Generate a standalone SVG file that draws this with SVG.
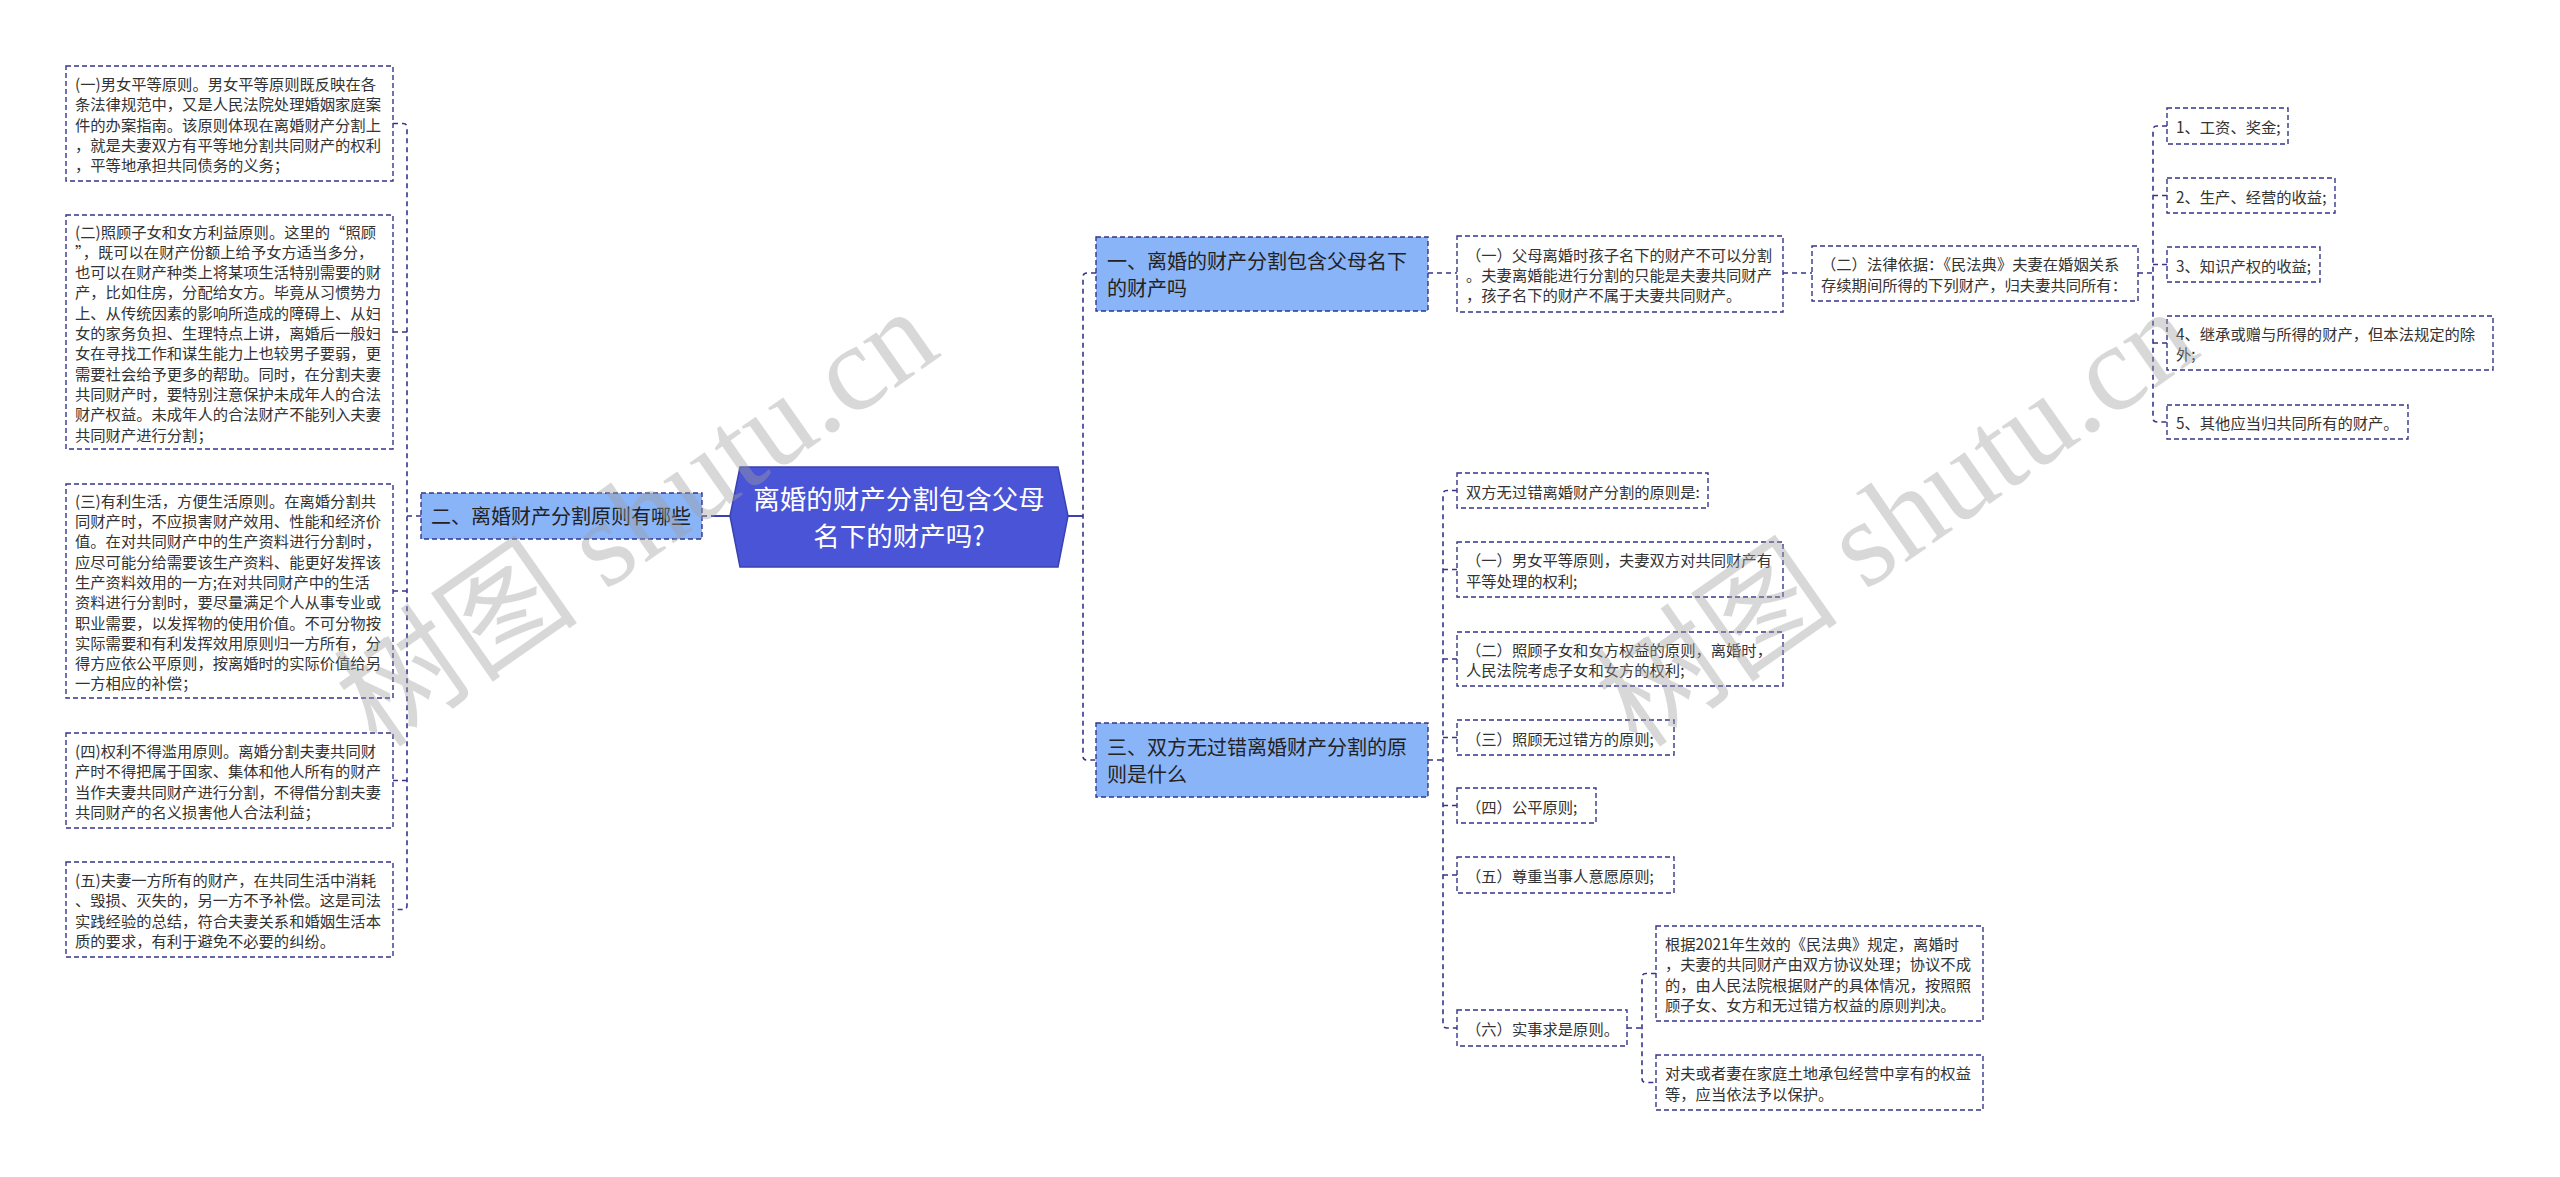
<svg xmlns="http://www.w3.org/2000/svg" width="2560" height="1177" viewBox="0 0 2560 1177">
<style>
.bg{fill:#ffffff}
.leaf rect{fill:#ffffff;stroke:#35358a;stroke-width:1.4;stroke-dasharray:5 3}
.leaf text{font-family:"Noto Sans CJK SC",sans-serif;font-size:15.3px;fill:#333333}
.topic rect{fill:#8ab4f8;stroke:#35358a;stroke-width:1.4;stroke-dasharray:5 3}
.topic text{font-family:"Noto Sans CJK SC",sans-serif;font-size:20px;fill:#222222}
.root polygon{fill:#4a54d6;stroke:#3a42b0;stroke-width:1.5}
.root text{font-family:"Noto Sans CJK SC",sans-serif;font-size:26.5px;fill:#ffffff;text-anchor:middle}
.conn path{fill:none;stroke:#35358a;stroke-width:1.6;stroke-dasharray:5 4}
.conn path.solid{stroke:#3a42b0;stroke-width:2;stroke-dasharray:none}
.wm{font-family:"Liberation Serif","Noto Sans CJK SC",serif;font-size:123px;fill:#a0a0a0;opacity:0.4}
</style>
<rect class="bg" x="0" y="0" width="2560" height="1177"/>

<g id="connectors" class="conn">
  <path class="solid" d="M711,516 H730"/>
  <path d="M702,516 H708"/>
  <path class="solid" d="M1068,516 H1083"/>
  <path d="M421,516 H407"/>
  <path d="M393,123.5 H403 Q407,123.5 407,127.5 V905.5 Q407,909.5 403,909.5 H393"/>
  <path d="M407,332 H393 M407,591 H393 M407,780.5 H393"/>
  <path d="M1096,273 H1087 Q1083,273 1083,277 V756 Q1083,760 1087,760 H1096"/>
  <path d="M1428,273 H1457"/>
  <path d="M1783,273 H1812"/>
  <path d="M2138,273 H2153"/>
  <path d="M2167,126 H2157 Q2153,126 2153,130 V418 Q2153,422 2157,422 H2167"/>
  <path d="M2153,195.5 H2167 M2153,264.5 H2167 M2153,343 H2167"/>
  <path d="M1428,760 H1443"/>
  <path d="M1457,490.5 H1447 Q1443,490.5 1443,494.5 V1024 Q1443,1028 1447,1028 H1457"/>
  <path d="M1443,569.5 H1457 M1443,659 H1457 M1443,737.5 H1457 M1443,805.5 H1457 M1443,875 H1457"/>
  <path d="M1627,1028 H1642"/>
  <path d="M1656,973.5 H1646 Q1642,973.5 1642,977.5 V1078.5 Q1642,1082.5 1646,1082.5 H1656"/>
</g>

<g id="root" class="root">
  <polygon points="730,516 740,467 1058,467 1068,516 1058,567 740,567"/>
  <text x="899" y="509">离婚的财产分割包含父母</text>
  <text x="899" y="546">名下的财产吗?</text>
</g>

<g id="topic2" class="topic">
  <rect x="421" y="493" width="281" height="46"/>
  <text x="431" y="524">二、离婚财产分割原则有哪些</text>
</g>

<g id="topic1" class="topic">
  <rect x="1096" y="237" width="332" height="74"/>
  <text x="1107" y="268.5">一、离婚的财产分割包含父母名下<tspan x="1107" dy="27">的财产吗</tspan></text>
</g>

<g id="topic3" class="topic">
  <rect x="1096" y="723" width="332" height="74"/>
  <text x="1107" y="754.5">三、双方无过错离婚财产分割的原<tspan x="1107" dy="27">则是什么</tspan></text>
</g>

<g id="l1" class="leaf">
  <rect x="66" y="66" width="327" height="115"/>
  <text x="75" y="89.9">(一)男女平等原则。男女平等原则既反映在各<tspan x="75" dy="20.3">条法律规范中，又是人民法院处理婚姻家庭案</tspan><tspan x="75" dy="20.3">件的办案指南。该原则体现在离婚财产分割上</tspan><tspan x="75" dy="20.3">，就是夫妻双方有平等地分割共同财产的权利</tspan><tspan x="75" dy="20.3">，平等地承担共同债务的义务；</tspan></text>
</g>

<g id="l2" class="leaf">
  <rect x="66" y="215" width="327" height="234"/>
  <text x="75" y="237.5">(二)照顾子女和女方利益原则。这里的“照顾<tspan x="75" dy="20.3">”，既可以在财产份额上给予女方适当多分，</tspan><tspan x="75" dy="20.3">也可以在财产种类上将某项生活特别需要的财</tspan><tspan x="75" dy="20.3">产，比如住房，分配给女方。毕竟从习惯势力</tspan><tspan x="75" dy="20.3">上、从传统因素的影响所造成的障碍上、从妇</tspan><tspan x="75" dy="20.3">女的家务负担、生理特点上讲，离婚后一般妇</tspan><tspan x="75" dy="20.3">女在寻找工作和谋生能力上也较男子要弱，更</tspan><tspan x="75" dy="20.3">需要社会给予更多的帮助。同时，在分割夫妻</tspan><tspan x="75" dy="20.3">共同财产时，要特别注意保护未成年人的合法</tspan><tspan x="75" dy="20.3">财产权益。未成年人的合法财产不能列入夫妻</tspan><tspan x="75" dy="20.3">共同财产进行分割；</tspan></text>
</g>

<g id="l3" class="leaf">
  <rect x="66" y="484" width="327" height="214"/>
  <text x="75" y="506.7">(三)有利生活，方便生活原则。在离婚分割共<tspan x="75" dy="20.3">同财产时，不应损害财产效用、性能和经济价</tspan><tspan x="75" dy="20.3">值。在对共同财产中的生产资料进行分割时，</tspan><tspan x="75" dy="20.3">应尽可能分给需要该生产资料、能更好发挥该</tspan><tspan x="75" dy="20.3">生产资料效用的一方;在对共同财产中的生活</tspan><tspan x="75" dy="20.3">资料进行分割时，要尽量满足个人从事专业或</tspan><tspan x="75" dy="20.3">职业需要，以发挥物的使用价值。不可分物按</tspan><tspan x="75" dy="20.3">实际需要和有利发挥效用原则归一方所有，分</tspan><tspan x="75" dy="20.3">得方应依公平原则，按离婚时的实际价值给另</tspan><tspan x="75" dy="20.3">一方相应的补偿；</tspan></text>
</g>

<g id="l4" class="leaf">
  <rect x="66" y="733" width="327" height="95"/>
  <text x="75" y="757.1">(四)权利不得滥用原则。离婚分割夫妻共同财<tspan x="75" dy="20.3">产时不得把属于国家、集体和他人所有的财产</tspan><tspan x="75" dy="20.3">当作夫妻共同财产进行分割，不得借分割夫妻</tspan><tspan x="75" dy="20.3">共同财产的名义损害他人合法利益；</tspan></text>
</g>

<g id="l5" class="leaf">
  <rect x="66" y="862" width="327" height="95"/>
  <text x="75" y="886.1">(五)夫妻一方所有的财产，在共同生活中消耗<tspan x="75" dy="20.3">、毁损、灭失的，另一方不予补偿。这是司法</tspan><tspan x="75" dy="20.3">实践经验的总结，符合夫妻关系和婚姻生活本</tspan><tspan x="75" dy="20.3">质的要求，有利于避免不必要的纠纷。</tspan></text>
</g>

<g id="r1" class="leaf">
  <rect x="1457" y="236" width="326" height="76"/>
  <text x="1466" y="260.7">（一）父母离婚时孩子名下的财产不可以分割<tspan x="1466" dy="20.3">。夫妻离婚能进行分割的只能是夫妻共同财产</tspan><tspan x="1466" dy="20.3">，孩子名下的财产不属于夫妻共同财产。</tspan></text>
</g>

<g id="r2" class="leaf">
  <rect x="1812" y="246" width="326" height="55"/>
  <text x="1821" y="270.4">（二）法律依据：《民法典》夫妻在婚姻关系<tspan x="1821" dy="20.3">存续期间所得的下列财产，归夫妻共同所有：</tspan></text>
</g>

<g id="n1" class="leaf">
  <rect x="2167" y="108" width="121" height="36"/>
  <text x="2176" y="133">1、工资、奖金;</text>
</g>
<g id="n2" class="leaf">
  <rect x="2167" y="178" width="168" height="35"/>
  <text x="2176" y="202.5">2、生产、经营的收益;</text>
</g>
<g id="n3" class="leaf">
  <rect x="2167" y="247" width="153" height="35"/>
  <text x="2176" y="271.5">3、知识产权的收益;</text>
</g>
<g id="n4" class="leaf">
  <rect x="2167" y="316" width="326" height="54"/>
  <text x="2176" y="339.9">4、继承或赠与所得的财产，但本法规定的除<tspan x="2176" dy="20.3">外;</tspan></text>
</g>
<g id="n5" class="leaf">
  <rect x="2167" y="405" width="241" height="34"/>
  <text x="2176" y="429">5、其他应当归共同所有的财产。</text>
</g>

<g id="p0" class="leaf">
  <rect x="1457" y="473" width="251" height="35"/>
  <text x="1466" y="497.5">双方无过错离婚财产分割的原则是:</text>
</g>
<g id="p1" class="leaf">
  <rect x="1457" y="542" width="326" height="55"/>
  <text x="1466" y="566.4">（一）男女平等原则，夫妻双方对共同财产有<tspan x="1466" dy="20.3">平等处理的权利;</tspan></text>
</g>
<g id="p2" class="leaf">
  <rect x="1457" y="632" width="326" height="54"/>
  <text x="1466" y="655.9">（二）照顾子女和女方权益的原则，离婚时，<tspan x="1466" dy="20.3">人民法院考虑子女和女方的权利;</tspan></text>
</g>
<g id="p3" class="leaf">
  <rect x="1457" y="720" width="217" height="35"/>
  <text x="1466" y="744.5">（三）照顾无过错方的原则;</text>
</g>
<g id="p4" class="leaf">
  <rect x="1457" y="788" width="139" height="35"/>
  <text x="1466" y="812.5">（四）公平原则;</text>
</g>
<g id="p5" class="leaf">
  <rect x="1457" y="857" width="217" height="36"/>
  <text x="1466" y="882">（五）尊重当事人意愿原则;</text>
</g>
<g id="p6" class="leaf">
  <rect x="1457" y="1010" width="170" height="36"/>
  <text x="1466" y="1035">（六）实事求是原则。</text>
</g>
<g id="p6a" class="leaf">
  <rect x="1656" y="926" width="327" height="95"/>
  <text x="1665" y="950.1">根据2021年生效的《民法典》规定，离婚时<tspan x="1665" dy="20.3">，夫妻的共同财产由双方协议处理；协议不成</tspan><tspan x="1665" dy="20.3">的，由人民法院根据财产的具体情况，按照照</tspan><tspan x="1665" dy="20.3">顾子女、女方和无过错方权益的原则判决。</tspan></text>
</g>
<g id="p6b" class="leaf">
  <rect x="1656" y="1055" width="327" height="55"/>
  <text x="1665" y="1079.4">对夫或者妻在家庭土地承包经营中享有的权益<tspan x="1665" dy="20.3">等，应当依法予以保护。</tspan></text>
</g>

<g id="watermarks">
  <text class="wm" transform="translate(378,750) rotate(-35)">树图 shutu.cn</text>
  <text class="wm" transform="translate(1638,750) rotate(-35)">树图 shutu.cn</text>
</g>
</svg>
